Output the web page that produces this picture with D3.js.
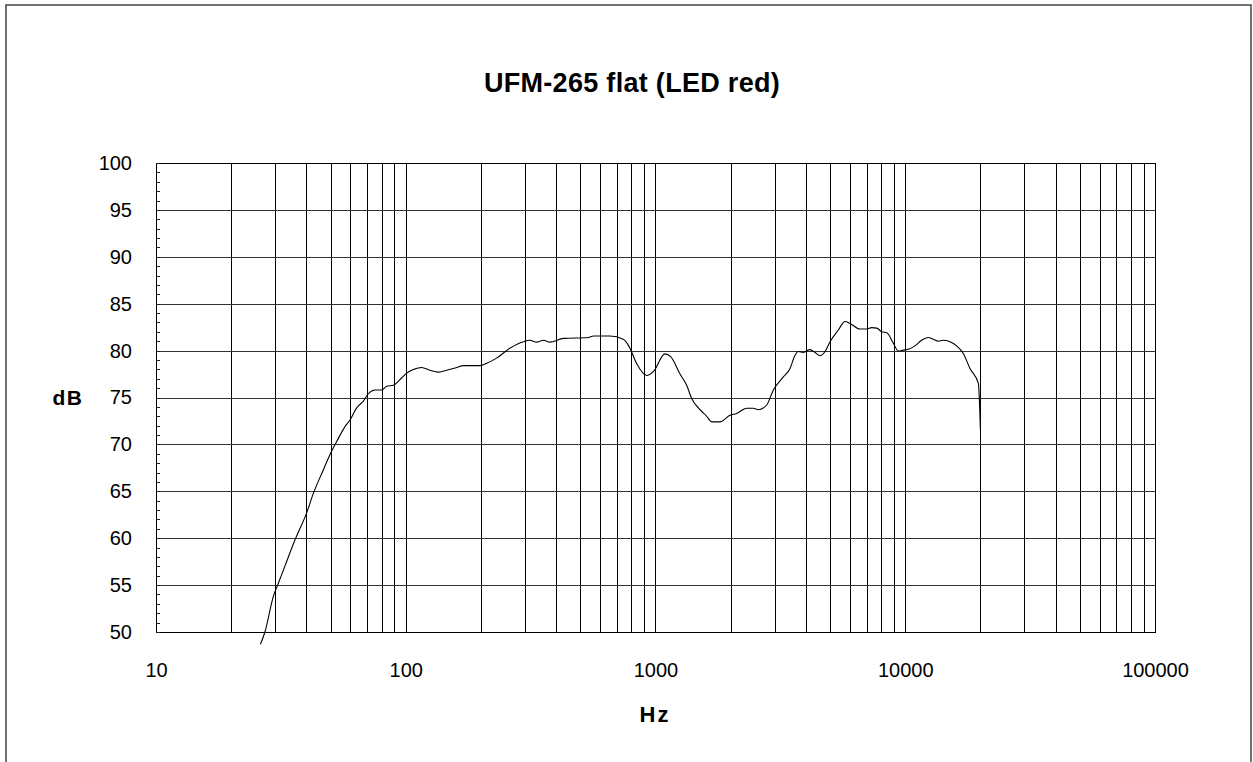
<!DOCTYPE html>
<html><head><meta charset="utf-8">
<script src="https://cdn.jsdelivr.net/npm/d3@7"></script>
<style>html,body{margin:0;padding:0;background:#fff;}svg{display:block;}</style>
</head><body>
<svg id="chart" width="1253" height="762"></svg>
<script>
const title = "UFM-265 flat (LED red)";
const xLabel = "Hz";
const yLabel = "dB";
const xTickValues = [10, 100, 1000, 10000, 100000];
const yTickValues = [50, 55, 60, 65, 70, 75, 80, 85, 90, 95, 100];
const freqHz = [26.2, 27.3, 29.5, 30.9, 32.9, 36.0, 40.1, 42.7, 46.8, 49.7, 52.9, 57.1, 59.8, 63.6, 67.6, 70.8, 75.3, 80.1, 83.9, 89.2, 94.8, 100.9, 105.6, 115.8, 125, 135, 143.6, 160, 170, 198, 211, 231, 261, 296, 314, 334, 356, 378, 428, 538, 564, 658, 743, 785, 841, 922, 980, 1091, 1150, 1254, 1333, 1396, 1507, 1603, 1679, 1812, 1988, 2114, 2318, 2466, 2582, 2788, 2964, 3251, 3458, 3619, 3733, 3909, 4155, 4352, 4560, 4775, 5000, 5398, 5737, 6011, 6592, 7012, 7343, 7690, 8052, 8433, 8960, 9380, 9824, 10285, 10935, 11630, 12366, 12950, 13560, 14200, 15100, 16060, 17080, 18160, 19620, 20000];
const levelDb = [48.7, 50.0, 53.8, 55.2, 57.1, 59.8, 62.7, 64.8, 67.3, 68.9, 70.3, 71.9, 72.6, 73.9, 74.6, 75.4, 75.8, 75.8, 76.2, 76.3, 76.9, 77.6, 77.9, 78.2, 77.9, 77.7, 77.85, 78.2, 78.4, 78.4, 78.65, 79.2, 80.25, 80.95, 81.1, 80.9, 81.1, 80.9, 81.3, 81.4, 81.55, 81.55, 81.2, 80.4, 78.6, 77.35, 77.75, 79.65, 79.35, 77.5, 76.3, 74.9, 73.7, 73.0, 72.4, 72.4, 73.1, 73.3, 73.85, 73.85, 73.7, 74.2, 75.8, 77.2, 78.1, 79.5, 79.9, 79.8, 80.1, 79.8, 79.45, 79.9, 80.95, 82.2, 83.1, 82.9, 82.3, 82.3, 82.45, 82.4, 82.0, 81.9, 80.8, 79.95, 80.05, 80.15, 80.5, 81.1, 81.4, 81.2, 81.0, 81.1, 80.95, 80.5, 79.7, 78.1, 76.5, 71.5];

const svg = d3.select("#chart");
const L = 156, R = 1155, T = 163, B = 632;
const x = d3.scaleLog().domain([10, 100000]).range([L, R]);
const y = d3.scaleLinear().domain([50, 100]).range([B, T]);
const font = "'Liberation Sans', Arial, Helvetica, sans-serif";

// outer frame
svg.append("rect").attr("x", 6).attr("y", 5).attr("width", 1245).attr("height", 800)
  .attr("fill", "none").attr("stroke", "#444").attr("stroke-width", 1.5);

// title
svg.append("text").attr("x", 632).attr("y", 92).attr("text-anchor", "middle")
  .attr("font-family", font).attr("font-weight", "bold").attr("font-size", 27)
  .attr("letter-spacing", 0.3).text(title);

// grid: vertical lines at each 1..9 x decade
const vGrid = [];
for (let d = 10; d < 100000; d *= 10) for (let k = 1; k <= 9; k++) vGrid.push(d * k);
vGrid.push(100000);
const grid = svg.append("g").attr("stroke", "#000").attr("stroke-width", 1).attr("shape-rendering", "crispEdges");
grid.selectAll("line.v").data(vGrid).join("line").attr("class", "v")
  .attr("x1", d => Math.round(x(d)) + 0.5).attr("x2", d => Math.round(x(d)) + 0.5)
  .attr("y1", T).attr("y2", B);
grid.selectAll("line.h").data(yTickValues).join("line").attr("class", "h")
  .attr("x1", L).attr("x2", R)
  .attr("y1", d => Math.round(y(d)) + 0.5).attr("y2", d => Math.round(y(d)) + 0.5)
  .attr("stroke", "#333");

// plot border
svg.append("rect").attr("x", L + 0.5).attr("y", T + 0.5).attr("width", R - L).attr("height", B - T)
  .attr("fill", "none").attr("stroke", "#000").attr("stroke-width", 1).attr("shape-rendering", "crispEdges");

// y axis with inward minor ticks
const yAxis = d3.axisLeft(y).tickValues(yTickValues).tickSize(0).tickPadding(24).tickFormat(d3.format("d"));
const ya = svg.append("g").attr("transform", `translate(${L},0)`).call(yAxis);
ya.select(".domain").remove();
ya.selectAll("text").attr("font-family", font).attr("font-size", 20).attr("fill", "#000");
const minor = d3.range(50, 101, 1);
svg.append("g").attr("stroke", "#222").attr("shape-rendering", "crispEdges")
  .selectAll("line").data(minor).join("line")
  .attr("x1", L).attr("x2", L + 4)
  .attr("y1", d => Math.round(y(d)) + 0.5).attr("y2", d => Math.round(y(d)) + 0.5);

// x axis labels
const xAxis = d3.axisBottom(x).tickValues(xTickValues).tickSize(0).tickPadding(31).tickFormat(d3.format("d"));
const xa = svg.append("g").attr("transform", `translate(0,${B})`).call(xAxis);
xa.select(".domain").remove();
xa.selectAll("text").attr("font-family", font).attr("font-size", 20).attr("fill", "#000");

// axis titles
svg.append("text").attr("x", 68).attr("y", 405).attr("text-anchor", "middle")
  .attr("font-family", font).attr("font-weight", "bold").attr("font-size", 21).attr("letter-spacing", 1.5).text(yLabel);
svg.append("text").attr("x", 655).attr("y", 722).attr("text-anchor", "middle")
  .attr("font-family", font).attr("font-weight", "bold").attr("font-size", 22).attr("letter-spacing", 2).text(xLabel);

// response curve
const pts = freqHz.map((f, i) => [f, levelDb[i]]);
const line = d3.line().x(d => x(d[0])).y(d => y(d[1])).curve(d3.curveMonotoneX);
svg.append("path").datum(pts).attr("d", line)
  .attr("fill", "none").attr("stroke", "#000").attr("stroke-width", 1.1);
</script>
</body></html>
